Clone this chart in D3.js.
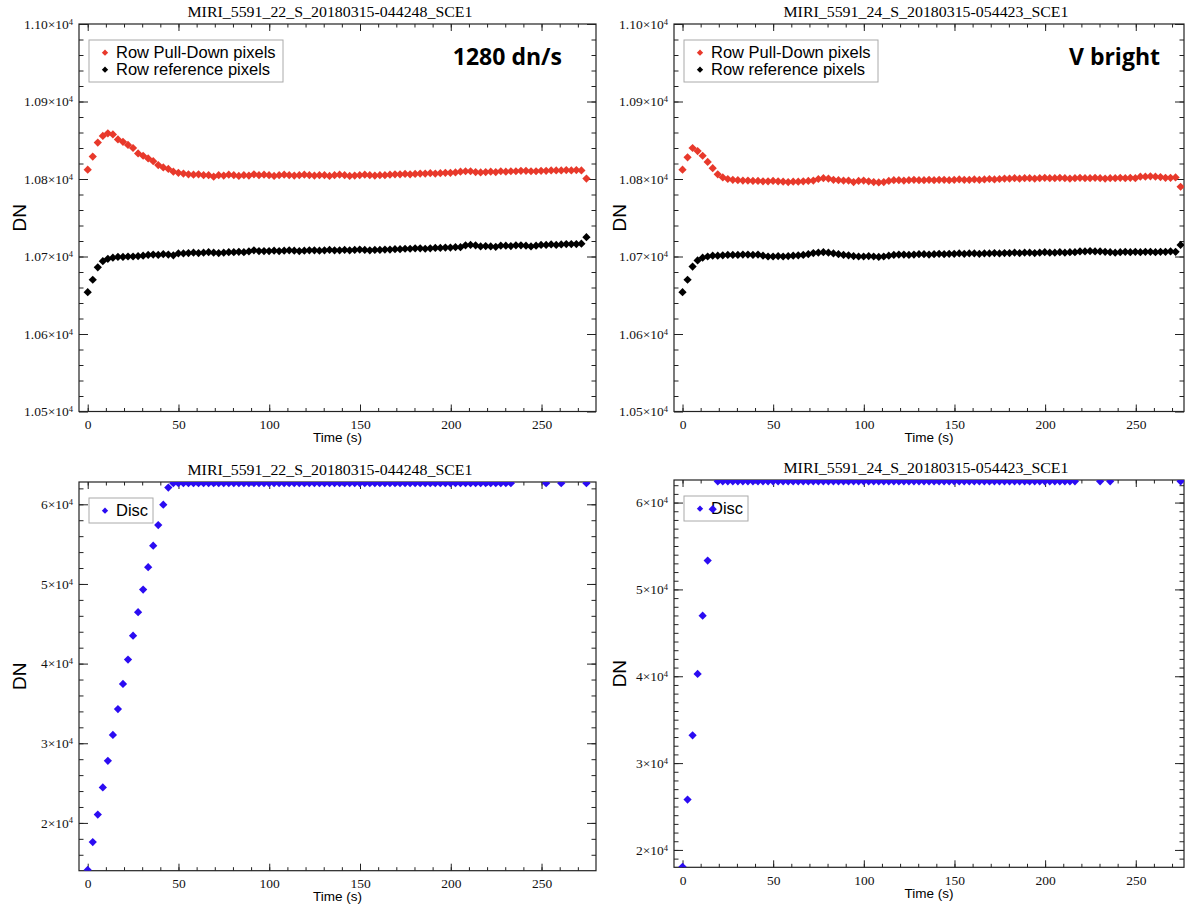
<!DOCTYPE html>
<html>
<head>
<meta charset="utf-8">
<script src="https://cdn.jsdelivr.net/npm/d3@7"></script>
<style>
  body { margin: 0; background: #fff; }
  svg { display: block; }
</style>
</head>
<body>
<div id="chart"></div>
<script>
// frame time of the exposure, seconds (100 groups)
var frameTime = 2.775;

// --- data ---
var tlPullDown = [10812, 10829, 10847, 10855.5, 10859, 10857.5, 10851, 10848, 10844, 10840,
  10833, 10830, 10826.5, 10823, 10818, 10815, 10813, 10809.5, 10808, 10807,
  10806, 10805.5, 10806, 10805, 10805, 10803, 10805, 10804.5, 10805.5, 10805,
  10804, 10805, 10804.5, 10806, 10805, 10805.5, 10805, 10804, 10805, 10805.5,
  10805, 10804.5, 10805, 10805.5, 10805, 10804.5, 10805, 10805, 10804, 10805,
  10805.5, 10805, 10804, 10804.5, 10805, 10805.5, 10805, 10804.5, 10805, 10805,
  10805.5, 10806, 10806, 10806.5, 10806, 10806.5, 10807, 10807, 10807.5, 10807,
  10807.5, 10808, 10808, 10808.5, 10809.5, 10810, 10810, 10809, 10808.5, 10809,
  10809.5, 10809, 10810, 10809.5, 10810, 10810, 10810.5, 10810.5, 10810, 10810,
  10810.5, 10810.5, 10811, 10811, 10811, 10811.5, 10811, 10811.5, 10811, 10800.5];

var tlReference = [10654, 10670, 10686, 10694, 10697, 10698.5, 10699.5, 10699.5, 10700, 10700,
  10700.5, 10701, 10702, 10702.5, 10702, 10703, 10702.5, 10701.5, 10704, 10704,
  10704.5, 10705, 10704.5, 10705, 10705.5, 10705, 10704.5, 10705, 10705.5, 10705.5,
  10706, 10705.5, 10706.5, 10708, 10707, 10707, 10707, 10707.5, 10707, 10707.5,
  10708, 10707.5, 10707, 10707.5, 10708, 10708, 10707.5, 10708, 10708.5, 10708,
  10708, 10708.5, 10708, 10708.5, 10709, 10708.5, 10708, 10708.5, 10708.5, 10709,
  10709, 10709.5, 10709.5, 10710, 10710, 10710.5, 10710.5, 10710, 10710.5, 10711,
  10711, 10711.5, 10711.5, 10712, 10712, 10714.5, 10715, 10714.5, 10713, 10713.5,
  10713, 10712.5, 10714, 10714, 10713.5, 10714.5, 10714.5, 10714, 10713, 10714,
  10715, 10715, 10715.5, 10715, 10715.5, 10716, 10716, 10716, 10716.5, 10725];

var trPullDown = [10812, 10828, 10840, 10836, 10830, 10822, 10814, 10806, 10802, 10800,
  10799, 10798.5, 10798, 10798, 10797.5, 10797.5, 10797, 10797, 10797.5, 10797,
  10796.5, 10796, 10796.5, 10796.5, 10797, 10797.5, 10798, 10800, 10801, 10800.5,
  10799, 10798.5, 10798, 10798, 10796, 10797.5, 10798, 10797, 10796, 10795.5,
  10796, 10797.5, 10798.5, 10798.5, 10798, 10798.5, 10799, 10798.5, 10798.5, 10799,
  10798.5, 10799, 10799, 10798.5, 10799, 10799.5, 10799, 10799, 10799.5, 10799,
  10799.5, 10800, 10799.5, 10800, 10800.5, 10800.5, 10801, 10800.5, 10801, 10801,
  10800.5, 10801, 10801.5, 10801, 10801, 10801.5, 10801, 10800.5, 10801, 10801.5,
  10801, 10801, 10801.5, 10801, 10800.5, 10801, 10801, 10801.5, 10801, 10801.5,
  10801, 10803, 10803, 10803.5, 10803, 10802.5, 10801.5, 10801.5, 10802, 10790];

var trReference = [10654, 10670, 10687, 10695, 10698.5, 10700, 10701, 10701, 10701.5, 10702,
  10702, 10702, 10702.5, 10702.5, 10702, 10702.5, 10701, 10700, 10700, 10700.5,
  10700, 10700.5, 10701, 10701.5, 10702, 10703, 10704.5, 10705, 10705.5, 10705,
  10704, 10703, 10702, 10701.5, 10700.5, 10700, 10700, 10700.5, 10700, 10699.5,
  10700, 10701, 10702, 10702.5, 10702.5, 10702, 10702.5, 10703, 10703, 10702.5,
  10703, 10703.5, 10703, 10703.5, 10703.5, 10704, 10703.5, 10704, 10704, 10703.5,
  10704, 10704, 10704.5, 10704, 10704.5, 10704.5, 10705, 10704.5, 10705, 10705,
  10704.5, 10705, 10705.5, 10705, 10705, 10705.5, 10705, 10705.5, 10705.5, 10706.5,
  10706.5, 10707, 10706.5, 10706.5, 10706, 10705.5, 10705, 10705.5, 10706, 10705.5,
  10706, 10705.5, 10706, 10706, 10705.5, 10706, 10706, 10706.5, 10706, 10715];

var S = 62650; // saturated disc level (drawn at top axis)
var blDisc = [14100, 17600, 21050, 24450, 27800, 31050, 34300, 37450, 40500, 43500,
  46450, 49300, 52100, 54800, 57400, 59950, 62100, S, S, S,
  S, S, S, S, S, S, S, S, S, S,
  S, S, S, S, S, S, S, S, S, S,
  S, S, S, S, S, S, S, S, S, S,
  S, S, S, S, S, S, S, S, S, S,
  S, S, S, S, S, S, S, S, S, S,
  S, S, S, S, S, S, S, S, S, S,
  S, S, S, S, S, null, null, null, null, null,
  null, S, null, null, S, null, null, null, null, S];

var R = 62450;
var brDisc = [18050, 25800, 33200, 40270, 46980, 53320, 59240, R, R, R,
  R, R, R, R, R, R, R, R, R, R,
  R, R, R, R, R, R, R, R, R, R,
  R, R, R, R, R, R, R, R, R, R,
  R, R, R, R, R, R, R, R, R, R,
  R, R, R, R, R, R, R, R, R, R,
  R, R, R, R, R, R, R, R, R, R,
  R, R, R, R, R, R, R, R, R, null,
  null, null, null, R, null, R, null, null, null, null,
  null, null, null, null, null, null, null, null, null, R];

var topTicks = [10500, 10600, 10700, 10800, 10900, 11000];
var discTicks = [20000, 30000, 40000, 50000, 60000];
var timeTicks = [0, 50, 100, 150, 200, 250];

var red = "#e8392b", blue = "#2b0cf2";

var svg = d3.select("#chart").append("svg")
  .attr("width", 1186)
  .attr("height", 905);

var serif = "'Liberation Serif', 'Times New Roman', serif";
var sans = "'Liberation Sans', Arial, sans-serif";

function drawPanel(p) {
  var w = p.right - p.left, h = p.bottom - p.top;
  var x = d3.scaleLinear().domain(p.xDomain).range([0, w]);
  var y = d3.scaleLinear().domain(p.yDomain).range([h, 0]);
  var g = svg.append("g").attr("transform", "translate(" + p.left + "," + p.top + ")");

  // title
  svg.append("text")
    .attr("x", p.titleX).attr("y", p.top - 7)
    .attr("text-anchor", "middle")
    .style("font", "15px " + serif)
    .attr("textLength", 285).attr("lengthAdjust", "spacingAndGlyphs")
    .text(p.title);

  var xMinor = d3.range(0, p.xDomain[1], 10);
  var yMinor = d3.range(p.yDomain[0] - p.yDomain[0] % p.yMinor + p.yMinor, p.yDomain[1], p.yMinor);

  function styleAxis(a) {
    a.select(".domain").remove();
    a.selectAll("line").attr("stroke", "#222");
  }

  // minor ticks
  g.append("g").call(d3.axisBottom(x).tickValues(xMinor).tickSize(-3.5).tickFormat(""))
    .attr("transform", "translate(0," + h + ")").call(styleAxis);
  g.append("g").call(d3.axisTop(x).tickValues(xMinor).tickSize(-3.5).tickFormat("")).call(styleAxis);
  g.append("g").call(d3.axisLeft(y).tickValues(yMinor).tickSize(-4.5).tickFormat("")).call(styleAxis);
  g.append("g").call(d3.axisRight(y).tickValues(yMinor).tickSize(-4.5).tickFormat(""))
    .attr("transform", "translate(" + w + ",0)").call(styleAxis);

  // major ticks
  var bx = g.append("g").attr("transform", "translate(0," + h + ")")
    .call(d3.axisBottom(x).tickValues(timeTicks).tickSize(-7).tickPadding(8))
    .call(styleAxis);
  bx.selectAll("text").style("font", "13.5px " + serif).attr("fill", "#111");
  g.append("g").call(d3.axisTop(x).tickValues(timeTicks).tickSize(-7).tickFormat("")).call(styleAxis);

  var ly = g.append("g")
    .call(d3.axisLeft(y).tickValues(p.yTicks).tickSize(-9).tickPadding(6).tickFormat(""))
    .call(styleAxis);
  ly.selectAll(".tick text").each(function(d) {
    var t = d3.select(this).style("font", "13.5px " + serif).attr("fill", "#111");
    t.append("tspan").text(p.mantissa(d) + "\u00d710");
    t.append("tspan").attr("dy", "-0.5em").style("font-size", "8.5px").text("4");
  });
  g.append("g").attr("transform", "translate(" + w + ",0)")
    .call(d3.axisRight(y).tickValues(p.yTicks).tickSize(-9).tickFormat("")).call(styleAxis);

  // frame
  g.append("rect").attr("width", w).attr("height", h)
    .attr("fill", "none").attr("stroke", "#222").attr("stroke-width", 1.2);

  // axis titles
  g.append("text")
    .attr("x", w / 2).attr("y", h + 30.5)
    .attr("text-anchor", "middle")
    .style("font", "13.5px " + sans)
    .text("Time (s)");
  g.append("text")
    .attr("transform", "translate(" + (p.dnX - p.left) + "," + (h / 2) + ") rotate(-90)")
    .attr("text-anchor", "middle")
    .style("font", "19px " + sans)
    .text("DN");

  // legend (drawn before data, no fill)
  var lg = g.append("g");
  lg.append("rect")
    .attr("x", 10).attr("y", p.legendY)
    .attr("width", p.legendW).attr("height", p.legendH)
    .attr("fill", "none").attr("stroke", "#aaa");
  p.series.forEach(function(s, k) {
    var cy = p.legendY + 12.7 + k * 17;
    lg.append("path")
      .attr("d", d3.symbol(d3.symbolSquare, 20)())
      .attr("transform", "translate(26," + cy + ") rotate(45)")
      .attr("fill", s.color);
    lg.append("text")
      .attr("x", 37).attr("y", cy + 5.5)
      .style("font", "16.5px " + sans)
      .text(s.name);
  });

  if (p.note) {
    g.append("text")
      .attr("x", p.note.x - p.left).attr("y", 65 - p.top)
      .attr("text-anchor", "end")
      .style("font", "bold 23px 'Open Sans', sans-serif")
      .text(p.note.text);
  }

  // data
  var clipId = "clip" + p.id;
  g.append("clipPath").attr("id", clipId)
    .append("rect").attr("width", w).attr("height", h);
  var dg = g.append("g").attr("clip-path", "url(#" + clipId + ")");
  var sym = d3.symbol(d3.symbolSquare, 34)();
  p.series.forEach(function(s) {
    var pts = s.values.map(function(v, i) { return { t: i * frameTime, v: v }; })
      .filter(function(d) { return d.v !== null; });
    dg.selectAll(null).data(pts).enter().append("path")
      .attr("d", sym)
      .attr("transform", function(d) {
        return "translate(" + x(d.t) + "," + y(d.v) + ") rotate(45)";
      })
      .attr("fill", s.color);
  });
}

var topMant = function(d) { return d3.format(".2f")(d / 1e4); };
var discMant = function(d) { return d / 1e4; };

drawPanel({
  id: 1, left: 79, right: 596, top: 24, bottom: 411.5,
  xDomain: [-4.8, 280], yDomain: [10500, 11000], yTicks: topTicks, yMinor: 20,
  mantissa: topMant, title: "MIRI_5591_22_S_20180315-044248_SCE1", titleX: 330, dnX: 26,
  legendY: 16, legendW: 194, legendH: 42,
  note: { text: "1280 dn/s", x: 562 },
  series: [{ name: "Row Pull-Down pixels", color: red, values: tlPullDown },
           { name: "Row reference pixels", color: "#000", values: tlReference }]
});
drawPanel({
  id: 2, left: 674, right: 1184, top: 24, bottom: 411.5,
  xDomain: [-4.7, 276.6], yDomain: [10500, 11000], yTicks: topTicks, yMinor: 20,
  mantissa: topMant, title: "MIRI_5591_24_S_20180315-054423_SCE1", titleX: 926, dnX: 626,
  legendY: 16, legendW: 194, legendH: 42,
  note: { text: "V bright", x: 1160 },
  series: [{ name: "Row Pull-Down pixels", color: red, values: trPullDown },
           { name: "Row reference pixels", color: "#000", values: trReference }]
});
drawPanel({
  id: 3, left: 79, right: 596, top: 482, bottom: 870.7,
  xDomain: [-4.8, 280], yDomain: [14000, 62800], yTicks: discTicks, yMinor: 2000,
  mantissa: discMant, title: "MIRI_5591_22_S_20180315-044248_SCE1", titleX: 330, dnX: 26,
  legendY: 16, legendW: 64, legendH: 25,
  series: [{ name: "Disc", color: blue, values: blDisc }]
});
drawPanel({
  id: 4, left: 674, right: 1184, top: 480, bottom: 867.3,
  xDomain: [-4.7, 276.6], yDomain: [18000, 62600], yTicks: discTicks, yMinor: 1000,
  mantissa: discMant, title: "MIRI_5591_24_S_20180315-054423_SCE1", titleX: 926, dnX: 626,
  legendY: 16, legendW: 64, legendH: 25,
  series: [{ name: "Disc", color: blue, values: brDisc }]
});
</script>
</body>
</html>
